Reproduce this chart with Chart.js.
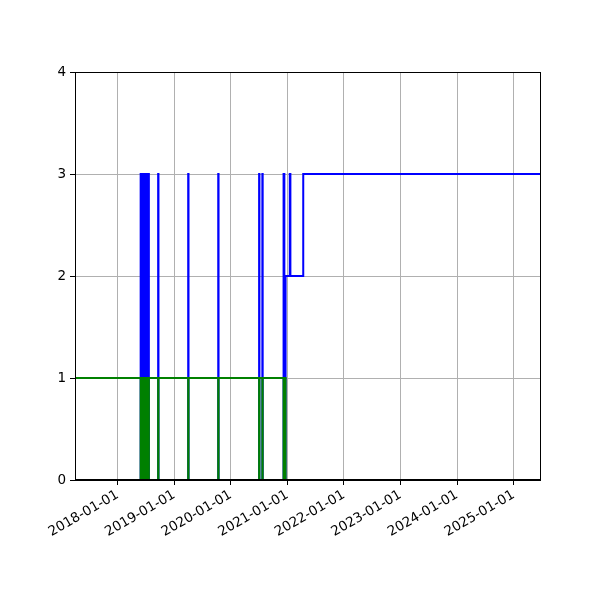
<!DOCTYPE html>
<html lang="en">
<head>
  <meta charset="UTF-8">
  <title>Step chart</title>
  <script src="https://cdn.jsdelivr.net/npm/chart.js"></script>
  <style>
    body {
      margin: 0;
      background: #fff;
    }
    #wrap {
      width: 600px;
      height: 600px;
    }
  </style>
</head>
<body>
  <div id="wrap">
    <canvas id="stepChart" width="600" height="600"></canvas>
  </div>

  <script>
    // dates where a value changes (step holds until the next date)
    const changeDates = [
      '2017-03-31',
      '2018-05-29', '2018-06-03', '2018-06-07', '2018-06-12', '2018-06-16', '2018-06-21',
      '2018-06-25', '2018-06-30', '2018-07-04', '2018-07-09', '2018-07-13', '2018-07-21',
      '2018-09-19', '2018-09-21',
      '2019-04-01', '2019-04-03',
      '2019-10-12', '2019-10-14',
      '2020-07-02', '2020-07-04',
      '2020-07-23', '2020-07-25',
      '2020-12-07', '2020-12-12', '2020-12-20',
      '2021-01-16', '2021-01-20',
      '2021-04-13',
      '2025-06-20'
    ];
    const blueValues = [
      0,
      3, 0, 3, 0, 3, 0, 3, 0, 3, 0, 3, 0,
      3, 0,
      3, 0,
      3, 0,
      3, 0,
      3, 0,
      3, 0, 2,
      3, 2,
      3,
      3
    ];
    const greenValues = [
      1,
      0, 1, 0, 1, 0, 1, 0, 1, 0, 1, 0, 1,
      0, 1,
      0, 1,
      0, 1,
      0, 1,
      0, 1,
      0, 1, 0,
      0, 0,
      0,
      0
    ];
    const tickYears = [2018, 2019, 2020, 2021, 2022, 2023, 2024, 2025];
    const xMin = '2017-03-31';
    const xMax = '2025-06-20';

    function toTime(s) {
      const p = s.split('-').map(Number);
      return Date.UTC(p[0], p[1] - 1, p[2]);
    }

    const times = changeDates.map(toTime);
    const bluePoints = times.map((t, i) => ({ x: t, y: blueValues[i] }));
    const greenPoints = times.map((t, i) => ({ x: t, y: greenValues[i] }));

    // box around the plot, like the reference
    const frame = {
      id: 'frame',
      afterDraw(chart) {
        const a = chart.chartArea;
        const c = chart.ctx;
        c.save();
        c.strokeStyle = '#000';
        c.lineWidth = 1;
        c.strokeRect(Math.round(a.left) + 0.5, Math.round(a.top) + 0.5,
          Math.round(a.right - a.left), Math.round(a.bottom - a.top) - 1);
        c.restore();
      }
    };

    const font = { family: 'DejaVu Sans', size: 13.5 };

    new Chart(document.getElementById('stepChart'), {
      type: 'line',
      data: {
        datasets: [
          {
            data: greenPoints,
            borderColor: '#008000',
            borderWidth: 2,
            stepped: true,
            pointRadius: 0,
            fill: false,
            order: 0
          },
          {
            data: bluePoints,
            borderColor: '#0000ff',
            borderWidth: 2,
            stepped: true,
            pointRadius: 0,
            fill: false,
            order: 1
          }
        ]
      },
      options: {
        responsive: false,
        animation: false,
        devicePixelRatio: 1,
        layout: {
          padding: { top: 72, right: 60, left: 0, bottom: 0 }
        },
        plugins: {
          legend: { display: false },
          tooltip: { enabled: false }
        },
        scales: {
          x: {
            type: 'linear',
            min: toTime(xMin),
            max: toTime(xMax),
            afterBuildTicks: scale => {
              scale.ticks = tickYears.map(y => ({ value: Date.UTC(y, 0, 1) }));
            },
            afterFit: scale => { scale.height = 120; },
            grid: {
              color: '#b0b0b0',
              lineWidth: 1,
              tickColor: '#000',
              tickLength: 5
            },
            border: { color: '#000' },
            ticks: {
              autoSkip: false,
              minRotation: 30,
              maxRotation: 30,
              padding: 2,
              color: '#000',
              font: font,
              callback: v => new Date(v).toISOString().slice(0, 10)
            }
          },
          y: {
            min: 0,
            max: 4,
            afterFit: scale => { scale.width = 75; },
            grid: {
              color: '#b0b0b0',
              lineWidth: 1,
              tickColor: '#000',
              tickLength: 5
            },
            border: { color: '#000' },
            ticks: {
              stepSize: 1,
              padding: 4,
              color: '#000',
              font: font
            }
          }
        }
      },
      plugins: [frame]
    });
  </script>
</body>
</html>
